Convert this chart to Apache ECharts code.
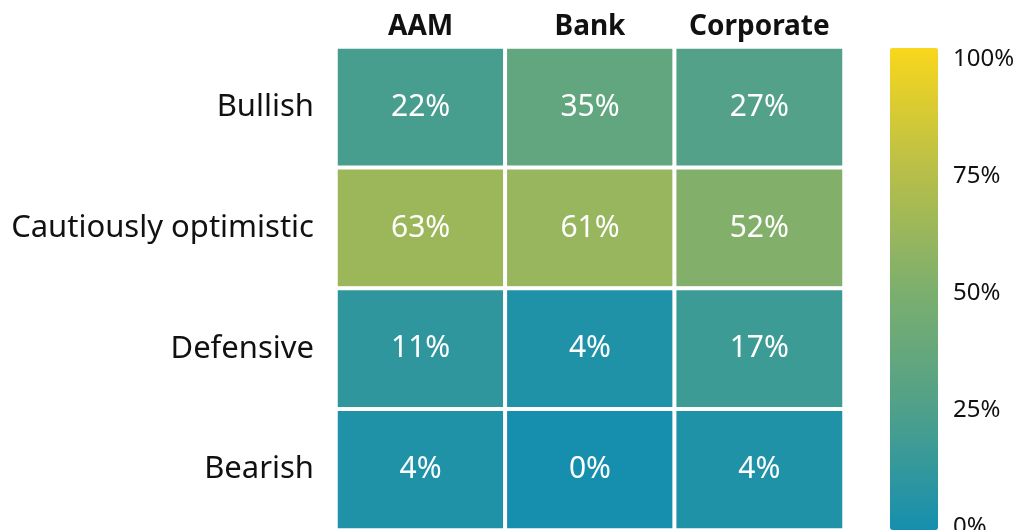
<!DOCTYPE html>
<html>
<head>
<meta charset="utf-8">
<script src="https://cdn.jsdelivr.net/npm/echarts@6/dist/echarts.min.js"></script>
<style>
  html, body { margin: 0; padding: 0; background: #fff; }
  #main { width: 1017px; height: 530px; }
</style>
</head>
<body>
<div id="main"></div>
<script>
// columns (top) and rows (left)
const groups = ['AAM', 'Bank', 'Corporate']
const outlooks = ['Bullish', 'Cautiously optimistic', 'Defensive', 'Bearish']
// share of respondents, % — one array per group, in outlooks order
const aam = [22, 63, 11, 4]
const bank = [35, 61, 4, 0]
const corporate = [27, 52, 17, 4]
const scaleTicks = [0, 25, 50, 75, 100]

const font = 'Noto Sans'
const cols = [aam, bank, corporate]
const cells = []
cols.forEach((vals, x) => {
  vals.forEach((v, y) => cells.push([x, y, v]))
})

const chart = echarts.init(document.getElementById('main'))
chart.setOption({
  animation: false,
  textStyle: { fontFamily: font },
  grid: [
    { left: 336, right: 173, top: 47, bottom: 0, outerBoundsMode: 'none' },
    { left: 940, width: 1, top: 59, bottom: 3, outerBoundsMode: 'none' }
  ],
  xAxis: [
    {
      type: 'category',
      data: groups,
      position: 'top',
      axisLine: { show: false },
      axisTick: { show: false },
      axisLabel: { interval: 0, hideOverlap: false, color: '#111', fontSize: 28, fontWeight: 'bold', margin: 6, fontFamily: font }
    },
    { type: 'value', gridIndex: 1, show: false }
  ],
  yAxis: [
    {
      type: 'category',
      data: outlooks,
      inverse: true,
      axisLine: { show: false },
      axisTick: { show: false },
      axisLabel: { interval: 0, color: '#111', fontSize: 31, margin: 22, padding: [6, 0, 0, 0], fontFamily: font }
    },
    {
      type: 'value',
      gridIndex: 1,
      position: 'right',
      min: scaleTicks[0],
      max: scaleTicks[scaleTicks.length - 1],
      interval: 25,
      axisLine: { show: false },
      axisTick: { show: false },
      splitLine: { show: false },
      axisLabel: { color: '#111', fontSize: 24, margin: 12, formatter: '{value}%', fontFamily: font }
    }
  ],
  visualMap: {
    type: 'continuous',
    seriesIndex: 0,
    min: 0,
    max: 100,
    calculable: false,
    showLabel: false,
    text: null,
    left: 890,
    top: 48,
    padding: 0,
    itemWidth: 48,
    itemHeight: 482,
    inRange: { color: ['#168fae', '#4fa08a', '#7daf6d', '#b9bf48', '#f9d71c'] }
  },
  series: [{
    type: 'heatmap',
    data: cells,
    itemStyle: { borderColor: '#fff', borderWidth: 4 },
    label: {
      show: true,
      color: '#fff',
      fontSize: 30,
      fontFamily: font,
      padding: [6, 0, 0, 0],
      formatter: p => p.value[2] + '%'
    },
    emphasis: { disabled: true }
  }]
})
</script>
</body>
</html>
